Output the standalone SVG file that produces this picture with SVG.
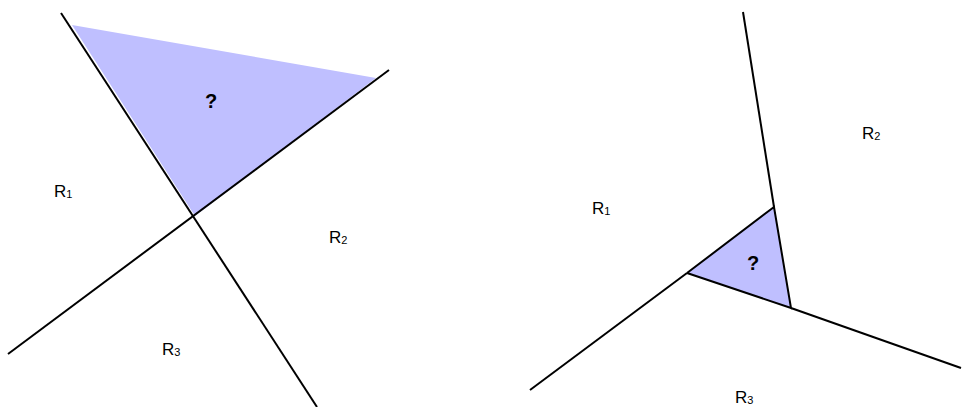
<svg xmlns="http://www.w3.org/2000/svg" width="963" height="407" viewBox="0 0 963 407">
<style>
.ln{stroke:#000;stroke-width:2;fill:none;stroke-linecap:butt}
.fill{fill:#bfbfff;stroke:none}
.lbl{font-family:"Liberation Sans",Arial,sans-serif;font-size:17px;fill:#000}
.sub{font-size:11px}
.q{font-family:"Liberation Sans",Arial,sans-serif;font-size:20px;font-weight:bold;fill:#000;text-anchor:middle}
</style>
<rect width="963" height="407" fill="#fff"/>
<g id="left-region">
<polygon class="fill" points="72,25 376,78 195,216"/>
<text class="q" x="211" y="108">?</text>
</g>
<g id="connectors">
<line class="ln" x1="61" y1="13" x2="317" y2="407"/>
<line class="ln" x1="8" y1="354" x2="389" y2="70"/>
</g>
<g id="left-labels">
<text class="lbl" x="54" y="197">R<tspan class="sub" dy="1">1</tspan></text>
<text class="lbl" x="329" y="243">R<tspan class="sub" dy="1">2</tspan></text>
<text class="lbl" x="162" y="355">R<tspan class="sub" dy="1">3</tspan></text>
</g>
<g id="right-region">
<polygon class="fill" points="687,273 774,207 791,308"/>
<text class="q" x="753" y="270">?</text>
</g>
<g id="right-connectors">
<polyline class="ln" points="687,273 774,207 791,308 687,273"/>
<line class="ln" x1="743" y1="12" x2="774" y2="207"/>
<line class="ln" x1="530" y1="390" x2="687" y2="273"/>
<line class="ln" x1="791" y1="308" x2="961" y2="368"/>
</g>
<g id="right-labels">
<text class="lbl" x="592" y="214">R<tspan class="sub" dy="1">1</tspan></text>
<text class="lbl" x="862" y="139">R<tspan class="sub" dy="1">2</tspan></text>
<text class="lbl" x="735" y="403">R<tspan class="sub" dy="1">3</tspan></text>
</g>
</svg>
